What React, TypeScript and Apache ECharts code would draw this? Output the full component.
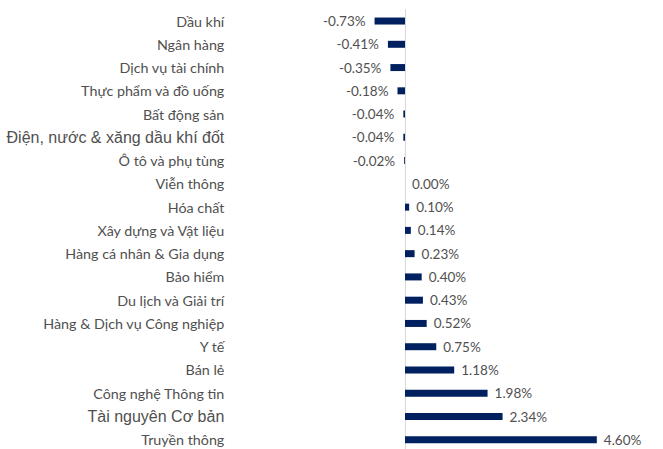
import React, { useEffect, useRef } from "react";
import * as echarts from "echarts";

const categories = [
  "Dầu khí",
  "Ngân hàng",
  "Dịch vụ tài chính",
  "Thực phẩm và đồ uống",
  "Bất động sản",
  "Điện, nước & xăng dầu khí đốt",
  "Ô tô và phụ tùng",
  "Viễn thông",
  "Hóa chất",
  "Xây dựng và Vật liệu",
  "Hàng cá nhân & Gia dụng",
  "Bảo hiểm",
  "Du lịch và Giải trí",
  "Hàng & Dịch vụ Công nghiệp",
  "Y tế",
  "Bán lẻ",
  "Công nghệ Thông tin",
  "Tài nguyên Cơ bản",
  "Truyền thông",
];

const values = [
  -0.73, -0.41, -0.35, -0.18, -0.04, -0.04, -0.02, 0.0, 0.1, 0.14, 0.23, 0.4,
  0.43, 0.52, 0.75, 1.18, 1.98, 2.34, 4.6,
];

const largerLabels = ["Điện, nước & xăng dầu khí đốt", "Tài nguyên Cơ bản"];

export default function App() {
  const ref = useRef<HTMLDivElement>(null);
  useEffect(() => {
    if (!ref.current) return;
    const chart = echarts.init(ref.current, undefined, { renderer: "svg" });
    chart.setOption({
      animation: false,
      backgroundColor: "#ffffff",
      grid: {
        left: 363.3,
        right: 49.5,
        top: 9.4,
        height: 442,
        containLabel: false,
        outerBoundsMode: "none",
      },
      xAxis: {
        type: "value",
        min: -1,
        max: 5,
        show: false,
        splitLine: { show: false },
      },
      yAxis: {
        type: "category",
        data: categories,
        inverse: true,
        axisLine: { show: true, onZero: true, lineStyle: { color: "#d9d9d9", width: 1 } },
        axisTick: { show: false },
        axisLabel: {
          margin: 139,
          color: "#505050",
          fontFamily: "Lato",
          fontSize: 14.3,
          formatter: (v: string) => (largerLabels.includes(v) ? `{b|${v}}` : v),
          rich: {
            b: { fontFamily: "Liberation Sans", fontSize: 16, color: "#505050" },
          },
        },
      },
      series: [
        {
          type: "bar",
          data: values.map((v) => ({
            value: v,
            label: {
              show: true,
              position: v < 0 ? "left" : "right",
              distance: v < 0 ? 9 : 7,
            },
          })),
          barWidth: 7,
          itemStyle: { color: "#002060" },
          label: {
            show: true,
            color: "#505050",
            fontFamily: "Lato",
            fontSize: 13.5,
            formatter: (p: any) => `${Number(p.value).toFixed(2)}%`,
          },
        },
      ],
    });
    return () => chart.dispose();
  }, []);
  return <div ref={ref} style={{ width: 663, height: 449, position: "absolute", left: 0, top: 0 }} />;
}
